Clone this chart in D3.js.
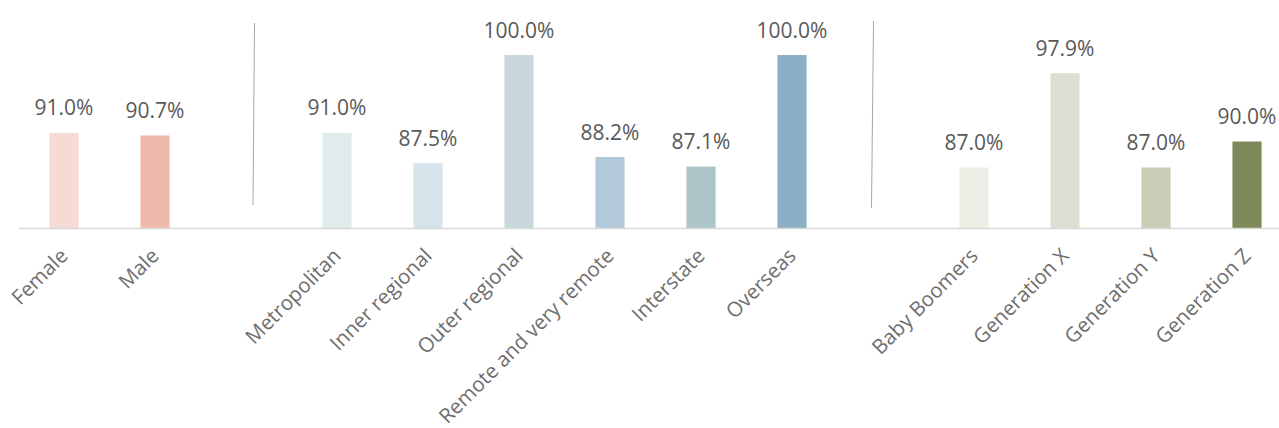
<!DOCTYPE html>
<html>
<head>
<meta charset="utf-8">
<script src="https://cdn.jsdelivr.net/npm/d3@7"></script>
<style>
  html, body { margin: 0; padding: 0; background: #fff; }
  svg { display: block; font-family: "Open Sans", "DejaVu Sans", sans-serif; }
</style>
</head>
<body>
<svg id="chart" width="1279" height="428"></svg>
<script>
// Share of respondents by group (percent)
const categories = ["Female", "Male",
  "Metropolitan", "Inner regional", "Outer regional", "Remote and very remote", "Interstate", "Overseas",
  "Baby Boomers", "Generation X", "Generation Y", "Generation Z"];
const values = [91.0, 90.7, 91.0, 87.5, 100.0, 88.2, 87.1, 100.0, 87.0, 97.9, 87.0, 90.0];
const groupSizes = [2, 6, 4];
const colors = ["#F6DAD3", "#EFBAAC",
  "#E2EBEC", "#D5E3EB", "#C8D8DE", "#B1C9D8", "#ADC4C8", "#8AAFC6",
  "#EDEEE6", "#DDDFD2", "#C9CDB5", "#7C8A59"];
const yDomain = [80, 100];

const svg = d3.select("#chart");

// Slot list: categories with one empty slot between groups
const slots = [];
let k = 0;
groupSizes.forEach((n, g) => {
  if (g > 0) slots.push("__gap" + g);
  for (let i = 0; i < n; i++) slots.push(categories[k++]);
});

const x = d3.scaleBand().domain(slots).range([18.5, 1292.5])
  .paddingInner(0.68).paddingOuter(0.34);
const y = d3.scaleLinear().domain(yDomain).range([228, 55]);

const data = categories.map((c, i) => ({ c, v: values[i], color: colors[i] }));

// Group separators
const sepOffsets = [{ key: "__gap1", dx: 8.5, y1: 23, y2: 205, tilt: -1.5 },
                    { key: "__gap2", dx: -9.5, y1: 21, y2: 208, tilt: -2 }];
svg.append("g").selectAll("line").data(sepOffsets).join("line")
  .attr("x1", d => x(d.key) + x.bandwidth() / 2 + d.dx)
  .attr("x2", d => x(d.key) + x.bandwidth() / 2 + d.dx + d.tilt)
  .attr("y1", d => d.y1).attr("y2", d => d.y2)
  .attr("stroke", "#A6A6A6").attr("stroke-width", 1);

// Bars
svg.append("g").selectAll("rect").data(data).join("rect")
  .attr("x", d => x(d.c))
  .attr("width", x.bandwidth())
  .attr("y", d => y(d.v))
  .attr("height", d => y(yDomain[0]) - y(d.v))
  .attr("fill", d => d.color);

// Category axis
const axis = svg.append("g").attr("transform", `translate(0,${y(yDomain[0])})`)
  .call(d3.axisBottom(x).tickSize(0).tickFormat(d => d.startsWith("__gap") ? "" : d));
axis.select(".domain").attr("stroke", "#D9D9D9").attr("stroke-width", 1.5)
  .attr("d", "M19,0.5H1279");
axis.selectAll(".tick text")
  .attr("font-size", 20.5)
  .attr("font-family", "'Open Sans', sans-serif")
  .attr("fill", "#6E6E6E")
  .attr("text-anchor", "end")
  .attr("dy", "0")
  .attr("transform", "translate(3,27) rotate(-45)");

// Value labels
svg.append("g").selectAll("text").data(data).join("text")
  .attr("x", d => x(d.c) + x.bandwidth() / 2)
  .attr("y", d => y(d.v) - 17.5)
  .attr("text-anchor", "middle")
  .attr("font-size", 21)
  .attr("fill", "#595959")
  .text(d => d3.format(".1f")(d.v) + "%");
</script>
</body>
</html>
